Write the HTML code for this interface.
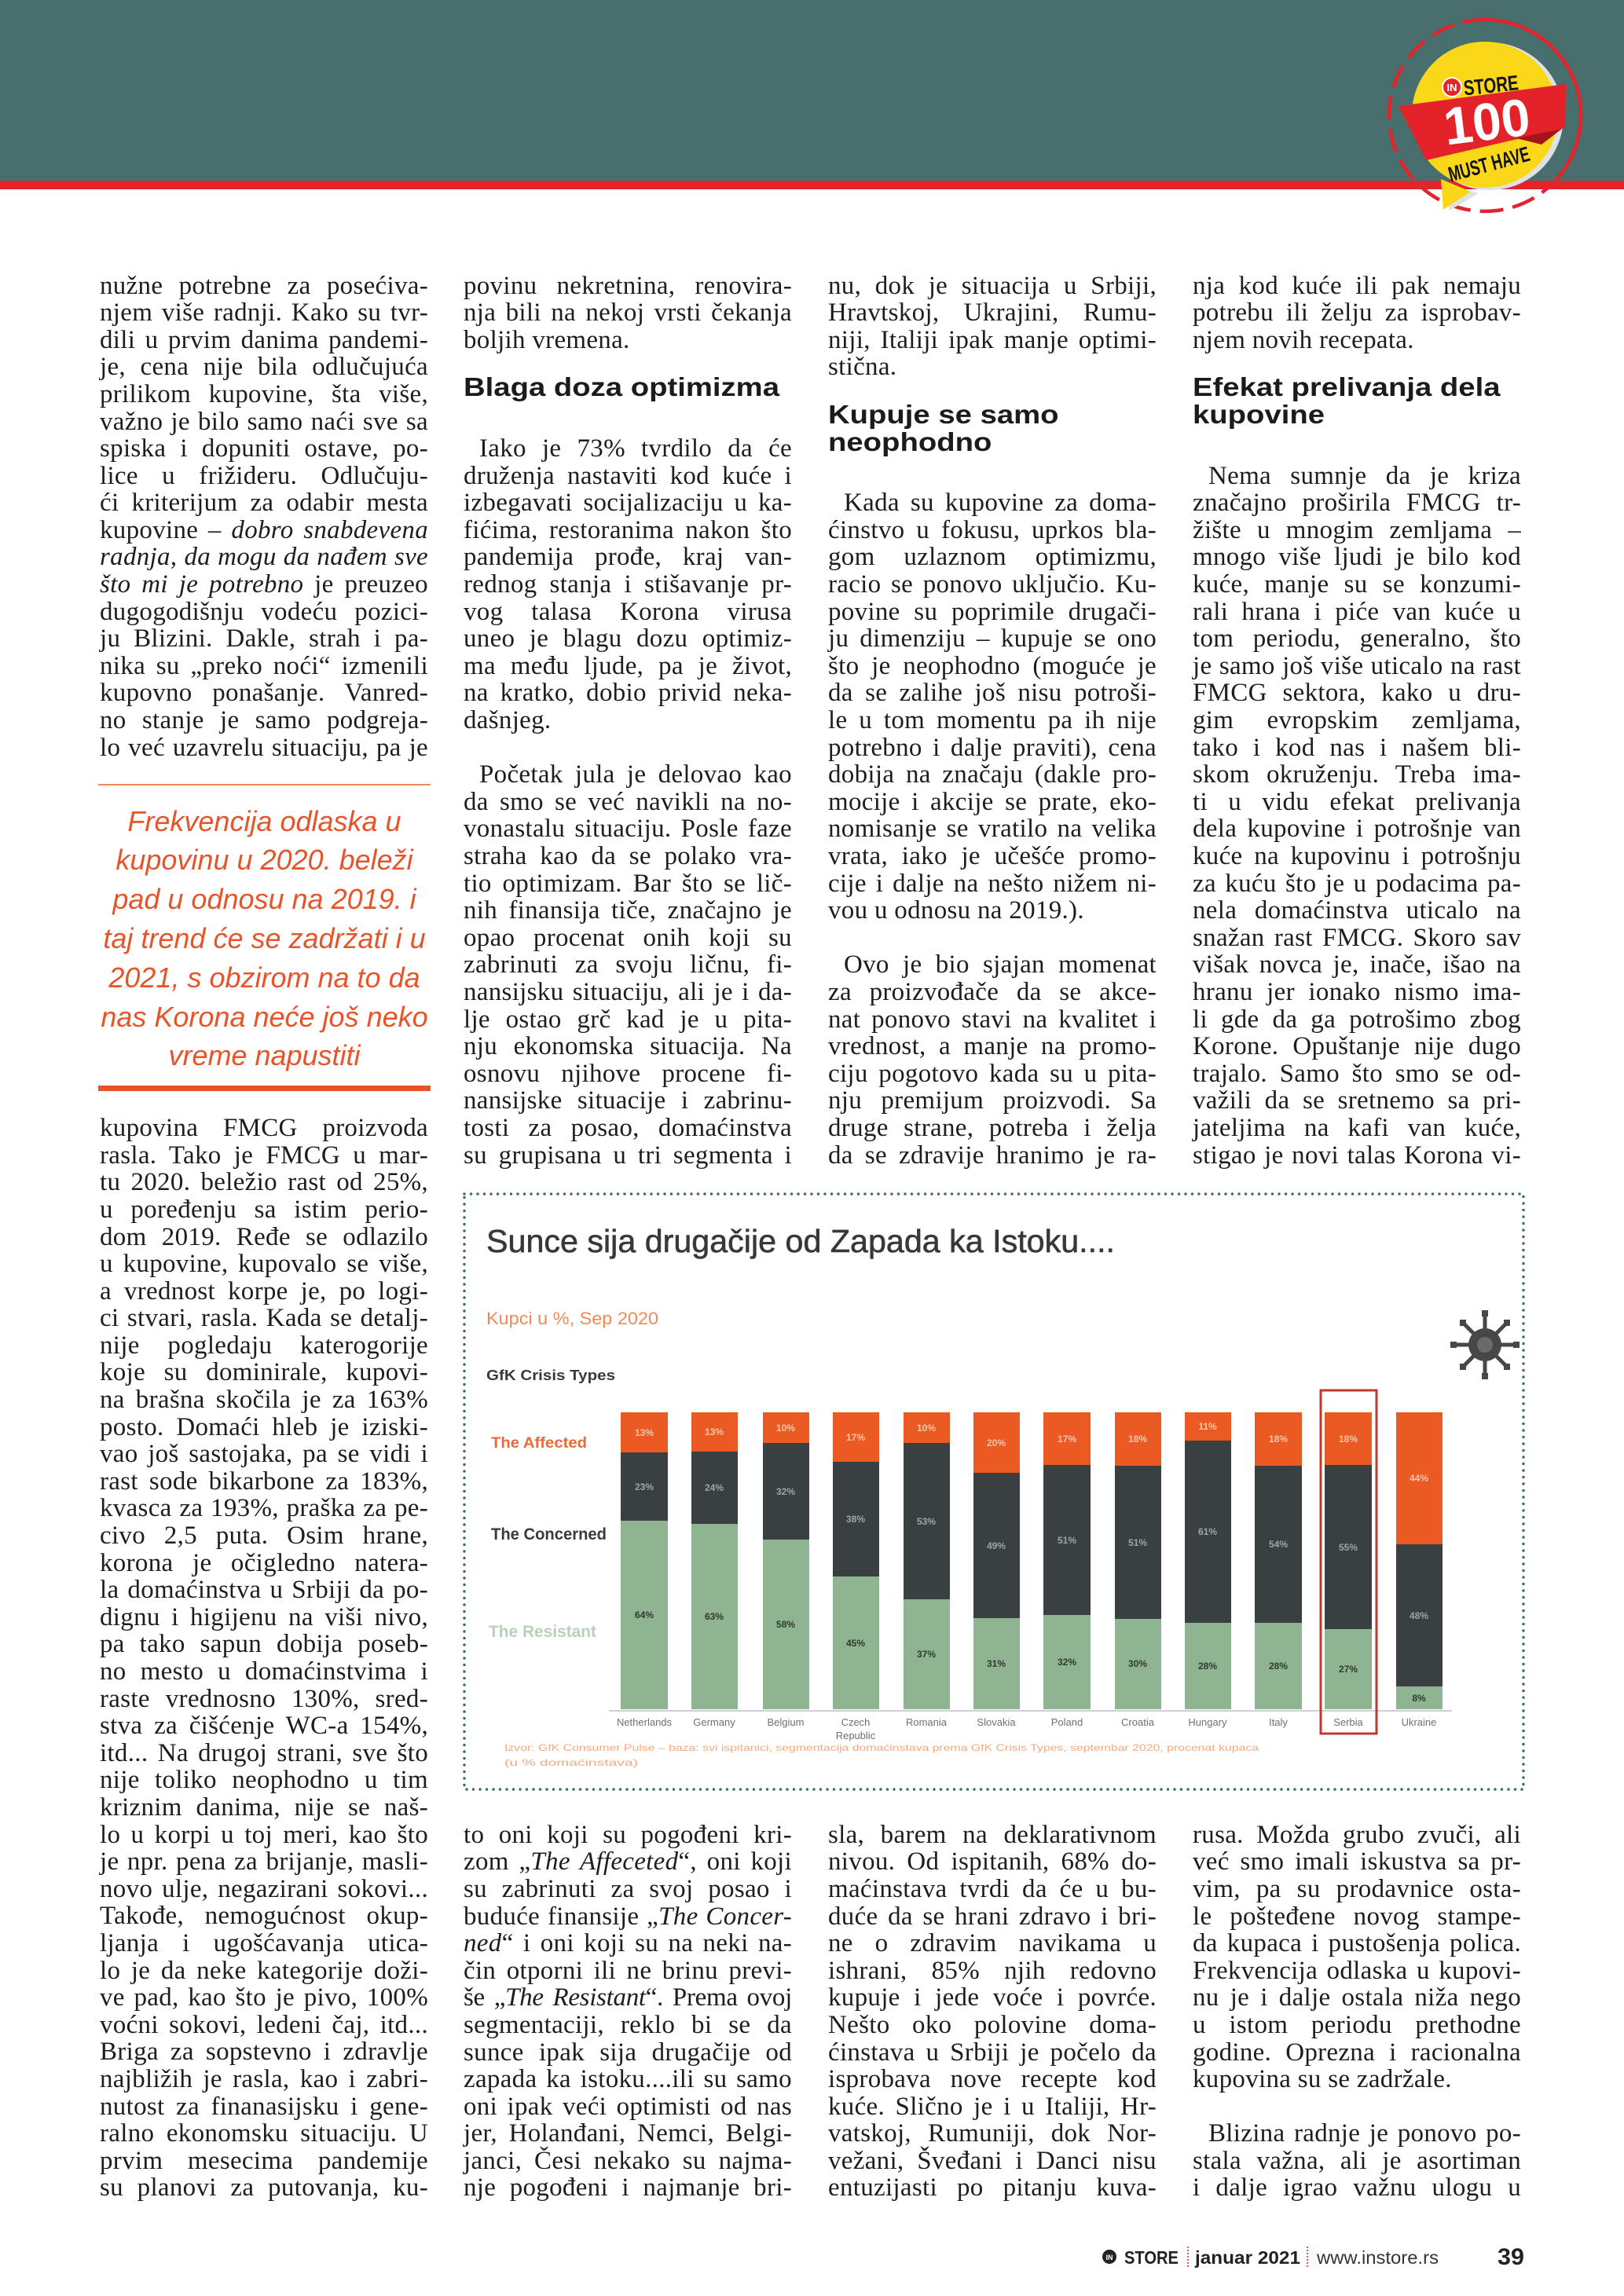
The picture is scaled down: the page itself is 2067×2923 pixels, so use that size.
<!DOCTYPE html>
<html>
<head>
<meta charset="utf-8">
<style>
html,body{margin:0;padding:0;}
body{width:2067px;height:2923px;position:relative;background:#fff;overflow:hidden;}
.col{position:absolute;width:418px;font-family:"Liberation Serif",serif;font-size:33px;letter-spacing:0.3px;color:#1f1c1d;}
.col div{height:34.6px;line-height:34.6px;text-align:justify;text-align-last:justify;white-space:normal;overflow:visible;}
.col div.l{text-align:left;text-align-last:left;}
.col div.i{text-indent:20px;}
.col div.t{letter-spacing:-0.3px;}
.col div.h{font-family:"Liberation Sans",sans-serif;font-weight:bold;font-size:33px;letter-spacing:0;text-align:left;text-align-last:left;position:relative;top:-8.6px;color:#1b1b1b;transform:scaleX(1.16);transform-origin:0 0;}
.quote{position:absolute;left:125px;top:1020.6px;width:423px;text-align:center;font-family:"Liberation Sans",sans-serif;font-style:italic;font-size:36px;line-height:49.8px;color:#e8542a;}
.abs{position:absolute;}
</style>
</head>
<body>

<!-- HEADER -->
<svg class="abs" style="left:0;top:0" width="2067" height="300" viewBox="0 0 2067 300">
  <rect x="0" y="0" width="2067" height="230" fill="#486e6e"/>
  <rect x="0" y="230" width="2067" height="11" fill="#e3242b"/>
  <circle cx="1890" cy="147" r="122" fill="none" stroke="#e3242b" stroke-width="4.5" stroke-dasharray="30 12"/>
  <path d="M1879.4,25.5 A122,122 0 0 1 1983.5,225.4" fill="none" stroke="#e3242b" stroke-width="4.5"/>
  <circle cx="1896" cy="148" r="94" fill="#dde3e5"/>
  <polygon points="1842,236 1845,268 1882,246" fill="#dde3e5"/>
  <circle cx="1890" cy="146" r="93" fill="#fbd719"/>
  <polygon points="1834,228 1837,267 1872,244" fill="#fbd719"/>
  <polygon points="1780,135 1993,107 1992,163 1815,204" fill="#e42229"/>
  <polygon points="1930,176 1988,164 1962,184" fill="#a3151b"/>
  <circle cx="1848" cy="111" r="12" fill="#e3242b" stroke="#fff" stroke-width="2"/>
  <text x="1848" y="116" text-anchor="middle" font-family="Liberation Sans, sans-serif" font-weight="bold" font-size="13" fill="#fff">IN</text>
  <text x="1863" y="118" font-family="Liberation Sans, sans-serif" font-weight="bold" font-size="27" fill="#161616" textLength="70" lengthAdjust="spacingAndGlyphs" transform="rotate(-6 1897 112)">STORE</text>
  <text x="1893" y="178" text-anchor="middle" font-family="Liberation Sans, sans-serif" font-weight="bold" font-size="67" fill="#ffffff" textLength="110" lengthAdjust="spacingAndGlyphs" transform="rotate(-7 1893 160)">100</text>
  <text x="1896" y="218" text-anchor="middle" font-family="Liberation Sans, sans-serif" font-weight="bold" font-size="27" fill="#111" textLength="106" lengthAdjust="spacingAndGlyphs" transform="rotate(-15 1896 212)">MUST HAVE</text>
</svg>

<!-- COLUMN 1 -->
<div class="col" style="left:127px;top:346.55px;">
<div>nužne potrebne za posećiva-</div>
<div>njem više radnji. Kako su tvr-</div>
<div>dili u prvim danima pandemi-</div>
<div>je, cena nije bila odlučujuća</div>
<div>prilikom kupovine, šta više,</div>
<div>važno je bilo samo naći sve sa</div>
<div>spiska i dopuniti ostave, po-</div>
<div>lice u frižideru. Odlučuju-</div>
<div>ći kriterijum za odabir mesta</div>
<div>kupovine – <i>dobro snabdevena</i></div>
<div><i>radnja, da mogu da nađem sve</i></div>
<div><i>što mi je potrebno</i> je preuzeo</div>
<div>dugogodišnju vodeću pozici-</div>
<div>ju Blizini. Dakle, strah i pa-</div>
<div>nika su „preko noći“ izmenili</div>
<div>kupovno ponašanje. Vanred-</div>
<div>no stanje je samo podgreja-</div>
<div>lo već uzavrelu situaciju, pa je</div>
</div>

<div class="abs" style="left:125px;top:998px;width:423px;height:2px;background:#f08a5e;"></div>
<div class="quote">
Frekvencija odlaska u<br>
kupovinu u 2020. beleži<br>
pad u odnosu na 2019. i<br>
taj trend će se zadržati i u<br>
2021, s obzirom na to da<br>
nas Korona neće još neko<br>
vreme napustiti
</div>
<div class="abs" style="left:125px;top:1382px;width:423px;height:7px;background:#e8542a;"></div>

<div class="col" style="left:127px;top:1419.15px;">
<div>kupovina FMCG proizvoda</div>
<div>rasla. Tako je FMCG u mar-</div>
<div>tu 2020. beležio rast od 25%,</div>
<div>u poređenju sa istim perio-</div>
<div>dom 2019. Ređe se odlazilo</div>
<div>u kupovine, kupovalo se više,</div>
<div>a vrednost korpe je, po logi-</div>
<div>ci stvari, rasla. Kada se detalj-</div>
<div>nije pogledaju katerogorije</div>
<div>koje su dominirale, kupovi-</div>
<div>na brašna skočila je za 163%</div>
<div>posto. Domaći hleb je iziski-</div>
<div>vao još sastojaka, pa se vidi i</div>
<div>rast sode bikarbone za 183%,</div>
<div>kvasca za 193%, praška za pe-</div>
<div>civo 2,5 puta. Osim hrane,</div>
<div>korona je očigledno natera-</div>
<div>la domaćinstva u Srbiji da po-</div>
<div>dignu i higijenu na viši nivo,</div>
<div>pa tako sapun dobija poseb-</div>
<div>no mesto u domaćinstvima i</div>
<div>raste vrednosno 130%, sred-</div>
<div>stva za čišćenje WC-a 154%,</div>
<div>itd... Na drugoj strani, sve što</div>
<div>nije toliko neophodno u tim</div>
<div>kriznim danima, nije se naš-</div>
<div>lo u korpi u toj meri, kao što</div>
<div>je npr. pena za brijanje, masli-</div>
<div>novo ulje, negazirani sokovi...</div>
<div>Takođe, nemogućnost okup-</div>
<div>ljanja i ugošćavanja utica-</div>
<div>lo je da neke kategorije doži-</div>
<div>ve pad, kao što je pivo, 100%</div>
<div>voćni sokovi, ledeni čaj, itd...</div>
<div>Briga za sopstevno i zdravlje</div>
<div>najbližih je rasla, kao i zabri-</div>
<div>nutost za finanasijsku i gene-</div>
<div>ralno ekonomsku situaciju. U</div>
<div>prvim mesecima pandemije</div>
<div>su planovi za putovanja, ku-</div>
</div>

<!-- COLUMN 2 -->
<div class="col" style="left:590px;top:346.55px;">
<div>povinu nekretnina, renovira-</div>
<div>nja bili na nekoj vrsti čekanja</div>
<div class="l">boljih vremena.</div>
<div></div>
<div class="h">Blaga doza optimizma</div>
<div></div>
<div class="i">Iako je 73% tvrdilo da će</div>
<div>druženja nastaviti kod kuće i</div>
<div>izbegavati socijalizaciju u ka-</div>
<div>fićima, restoranima nakon što</div>
<div>pandemija prođe, kraj van-</div>
<div>rednog stanja i stišavanje pr-</div>
<div>vog talasa Korona virusa</div>
<div>uneo je blagu dozu optimiz-</div>
<div>ma među ljude, pa je život,</div>
<div>na kratko, dobio privid neka-</div>
<div class="l">dašnjeg.</div>
<div></div>
<div class="i">Početak jula je delovao kao</div>
<div>da smo se već navikli na no-</div>
<div>vonastalu situaciju. Posle faze</div>
<div>straha kao da se polako vra-</div>
<div>tio optimizam. Bar što se lič-</div>
<div>nih finansija tiče, značajno je</div>
<div>opao procenat onih koji su</div>
<div>zabrinuti za svoju ličnu, fi-</div>
<div>nansijsku situaciju, ali je i da-</div>
<div>lje ostao grč kad je u pita-</div>
<div>nju ekonomska situacija. Na</div>
<div>osnovu njihove procene fi-</div>
<div>nansijske situacije i zabrinu-</div>
<div>tosti za posao, domaćinstva</div>
<div>su grupisana u tri segmenta i</div>
</div>

<div class="col" style="left:590px;top:2318.75px;">
<div>to oni koji su pogođeni kri-</div>
<div>zom „<i>The Affeceted</i>“, oni koji</div>
<div>su zabrinuti za svoj posao i</div>
<div>buduće finansije „<i>The Concer-</i></div>
<div><i>ned</i>“ i oni koji su na neki na-</div>
<div>čin otporni ili ne brinu previ-</div>
<div class="t">še „<i>The Resistant</i>“. Prema ovoj</div>
<div>segmentaciji, reklo bi se da</div>
<div>sunce ipak sija drugačije od</div>
<div>zapada ka istoku....ili su samo</div>
<div>oni ipak veći optimisti od nas</div>
<div>jer, Holanđani, Nemci, Belgi-</div>
<div>janci, Česi nekako su najma-</div>
<div>nje pogođeni i najmanje bri-</div>
</div>

<!-- COLUMN 3 -->
<div class="col" style="left:1054px;top:346.55px;">
<div>nu, dok je situacija u Srbiji,</div>
<div>Hravtskoj, Ukrajini, Rumu-</div>
<div>niji, Italiji ipak manje optimi-</div>
<div class="l">stična.</div>
<div></div>
<div class="h">Kupuje se samo</div>
<div class="h">neophodno</div>
<div></div>
<div class="i">Kada su kupovine za doma-</div>
<div>ćinstvo u fokusu, uprkos bla-</div>
<div>gom uzlaznom optimizmu,</div>
<div>racio se ponovo uključio. Ku-</div>
<div>povine su poprimile drugači-</div>
<div>ju dimenziju – kupuje se ono</div>
<div>što je neophodno (moguće je</div>
<div>da se zalihe još nisu potroši-</div>
<div>le u tom momentu pa ih nije</div>
<div>potrebno i dalje praviti), cena</div>
<div>dobija na značaju (dakle pro-</div>
<div>mocije i akcije se prate, eko-</div>
<div>nomisanje se vratilo na velika</div>
<div>vrata, iako je učešće promo-</div>
<div>cije i dalje na nešto nižem ni-</div>
<div class="l">vou u odnosu na 2019.).</div>
<div></div>
<div class="i">Ovo je bio sjajan momenat</div>
<div>za proizvođače da se akce-</div>
<div>nat ponovo stavi na kvalitet i</div>
<div>vrednost, a manje na promo-</div>
<div>ciju pogotovo kada su u pita-</div>
<div>nju premijum proizvodi. Sa</div>
<div>druge strane, potreba i želja</div>
<div>da se zdravije hranimo je ra-</div>
</div>

<div class="col" style="left:1054px;top:2318.75px;">
<div>sla, barem na deklarativnom</div>
<div>nivou. Od ispitanih, 68% do-</div>
<div>maćinstava tvrdi da će u bu-</div>
<div>duće da se hrani zdravo i bri-</div>
<div>ne o zdravim navikama u</div>
<div>ishrani, 85% njih redovno</div>
<div>kupuje i jede voće i povrće.</div>
<div>Nešto oko polovine doma-</div>
<div>ćinstava u Srbiji je počelo da</div>
<div>isprobava nove recepte kod</div>
<div>kuće. Slično je i u Italiji, Hr-</div>
<div>vatskoj, Rumuniji, dok Nor-</div>
<div>vežani, Šveđani i Danci nisu</div>
<div>entuzijasti po pitanju kuva-</div>
</div>

<!-- COLUMN 4 -->
<div class="col" style="left:1518px;top:346.55px;">
<div>nja kod kuće ili pak nemaju</div>
<div>potrebu ili želju za isprobav-</div>
<div class="l">njem novih recepata.</div>
<div></div>
<div class="h">Efekat prelivanja dela</div>
<div class="h">kupovine</div>
<div></div>
<div class="i">Nema sumnje da je kriza</div>
<div>značajno proširila FMCG tr-</div>
<div>žište u mnogim zemljama –</div>
<div>mnogo više ljudi je bilo kod</div>
<div>kuće, manje su se konzumi-</div>
<div>rali hrana i piće van kuće u</div>
<div>tom periodu, generalno, što</div>
<div>je samo još više uticalo na rast</div>
<div>FMCG sektora, kako u dru-</div>
<div>gim evropskim zemljama,</div>
<div>tako i kod nas i našem bli-</div>
<div>skom okruženju. Treba ima-</div>
<div>ti u vidu efekat prelivanja</div>
<div>dela kupovine i potrošnje van</div>
<div>kuće na kupovinu i potrošnju</div>
<div>za kuću što je u podacima pa-</div>
<div>nela domaćinstva uticalo na</div>
<div>snažan rast FMCG. Skoro sav</div>
<div>višak novca je, inače, išao na</div>
<div>hranu jer ionako nismo ima-</div>
<div>li gde da ga potrošimo zbog</div>
<div>Korone. Opuštanje nije dugo</div>
<div>trajalo. Samo što smo se od-</div>
<div>važili da se sretnemo sa pri-</div>
<div>jateljima na kafi van kuće,</div>
<div>stigao je novi talas Korona vi-</div>
</div>

<div class="col" style="left:1518px;top:2318.75px;">
<div>rusa. Možda grubo zvuči, ali</div>
<div>već smo imali iskustva sa pr-</div>
<div>vim, pa su prodavnice osta-</div>
<div>le pošteđene novog stampe-</div>
<div>da kupaca i pustošenja polica.</div>
<div>Frekvencija odlaska u kupovi-</div>
<div>nu je i dalje ostala niža nego</div>
<div>u istom periodu prethodne</div>
<div>godine. Oprezna i racionalna</div>
<div class="l">kupovina su se zadržale.</div>
<div></div>
<div class="i">Blizina radnje je ponovo po-</div>
<div>stala važna, ali je asortiman</div>
<div>i dalje igrao važnu ulogu u</div>
</div>

<!-- CHART -->
<svg class="abs" style="left:0;top:1500px" width="2067" height="800" viewBox="0 1500 2067 800">
  <rect x="591" y="1520" width="1348" height="758" fill="none" stroke="#3f6b69" stroke-width="3.5" stroke-dasharray="0 8.5" stroke-linecap="round"/>
  <text x="619" y="1594" font-family="Liberation Sans, sans-serif" font-size="41" fill="#383838" stroke="#383838" stroke-width="0.6" textLength="800" lengthAdjust="spacingAndGlyphs">Sunce sija drugačije od Zapada ka Istoku....</text>
  <text x="619" y="1686" font-family="Liberation Sans, sans-serif" font-size="22" fill="#ef8a56" textLength="219" lengthAdjust="spacingAndGlyphs">Kupci u %, Sep 2020</text>
  <text x="619" y="1757" font-family="Liberation Sans, sans-serif" font-weight="bold" font-size="18" fill="#3a3a3a" textLength="164" lengthAdjust="spacingAndGlyphs">GfK Crisis Types</text>
  <text x="625" y="1843" font-family="Liberation Sans, sans-serif" font-weight="bold" font-size="19" fill="#ec6a35" textLength="122" lengthAdjust="spacingAndGlyphs">The Affected</text>
  <text x="625" y="1960" font-family="Liberation Sans, sans-serif" font-weight="bold" font-size="21" fill="#3a3a3a" textLength="147" lengthAdjust="spacingAndGlyphs">The Concerned</text>
  <text x="622" y="2084" font-family="Liberation Sans, sans-serif" font-weight="bold" font-size="21" fill="#b9cfb9" textLength="137" lengthAdjust="spacingAndGlyphs">The Resistant</text>

  <!-- virus icon -->
  <g stroke="#474747" stroke-width="5" fill="#474747">
    <line x1="1890" y1="1712" x2="1890" y2="1672"/>
    <line x1="1890" y1="1712" x2="1890" y2="1752"/>
    <line x1="1890" y1="1712" x2="1850" y2="1712"/>
    <line x1="1890" y1="1712" x2="1930" y2="1712"/>
    <line x1="1890" y1="1712" x2="1862" y2="1684"/>
    <line x1="1890" y1="1712" x2="1918" y2="1684"/>
    <line x1="1890" y1="1712" x2="1862" y2="1740"/>
    <line x1="1890" y1="1712" x2="1918" y2="1740"/>
    <circle cx="1890" cy="1712" r="21" stroke="none"/>
    <rect x="1886" y="1668" width="8" height="8" stroke="none"/>
    <rect x="1886" y="1748" width="8" height="8" stroke="none"/>
    <rect x="1846" y="1708" width="8" height="8" stroke="none"/>
    <rect x="1926" y="1708" width="8" height="8" stroke="none"/>
    <rect x="1858" y="1680" width="8" height="8" stroke="none"/>
    <rect x="1914" y="1680" width="8" height="8" stroke="none"/>
    <rect x="1858" y="1736" width="8" height="8" stroke="none"/>
    <rect x="1914" y="1736" width="8" height="8" stroke="none"/>
  </g>
  <circle cx="1890" cy="1712" r="10" fill="#6a6a6a"/>

  <!-- axis -->
  <line x1="775" y1="2178" x2="1848" y2="2178" stroke="#cfd0dc" stroke-width="2"/>

  <g font-family="Liberation Sans, sans-serif" font-weight="bold" font-size="12" text-anchor="middle">
    <rect x="790" y="1798" width="60" height="51" fill="#eb5a23"/>
    <rect x="790" y="1849" width="60" height="87" fill="#3a3f41"/>
    <rect x="790" y="1936" width="60" height="240" fill="#8eb491"/>
    <text x="820" y="1828" fill="#f7c7aa">13%</text><text x="820" y="1897" fill="#9fa5a8">23%</text><text x="820" y="2060" fill="#2f3a2f">64%</text>
    <rect x="880" y="1798" width="59" height="50" fill="#eb5a23"/>
    <rect x="880" y="1848" width="59" height="92" fill="#3a3f41"/>
    <rect x="880" y="1940" width="59" height="236" fill="#8eb491"/>
    <text x="909" y="1827" fill="#f7c7aa">13%</text><text x="909" y="1898" fill="#9fa5a8">24%</text><text x="909" y="2062" fill="#2f3a2f">63%</text>
    <rect x="971" y="1798" width="59" height="39" fill="#eb5a23"/>
    <rect x="971" y="1837" width="59" height="123" fill="#3a3f41"/>
    <rect x="971" y="1960" width="59" height="216" fill="#8eb491"/>
    <text x="1000" y="1822" fill="#f7c7aa">10%</text><text x="1000" y="1903" fill="#9fa5a8">32%</text><text x="1000" y="2072" fill="#2f3a2f">58%</text>
    <rect x="1060" y="1798" width="59" height="63" fill="#eb5a23"/>
    <rect x="1060" y="1861" width="59" height="146" fill="#3a3f41"/>
    <rect x="1060" y="2007" width="59" height="169" fill="#8eb491"/>
    <text x="1089" y="1834" fill="#f7c7aa">17%</text><text x="1089" y="1938" fill="#9fa5a8">38%</text><text x="1089" y="2096" fill="#2f3a2f">45%</text>
    <rect x="1150" y="1798" width="59" height="39" fill="#eb5a23"/>
    <rect x="1150" y="1837" width="59" height="199" fill="#3a3f41"/>
    <rect x="1150" y="2036" width="59" height="140" fill="#8eb491"/>
    <text x="1179" y="1822" fill="#f7c7aa">10%</text><text x="1179" y="1941" fill="#9fa5a8">53%</text><text x="1179" y="2110" fill="#2f3a2f">37%</text>
    <rect x="1239" y="1798" width="59" height="77" fill="#eb5a23"/>
    <rect x="1239" y="1875" width="59" height="185" fill="#3a3f41"/>
    <rect x="1239" y="2060" width="59" height="116" fill="#8eb491"/>
    <text x="1268" y="1841" fill="#f7c7aa">20%</text><text x="1268" y="1972" fill="#9fa5a8">49%</text><text x="1268" y="2122" fill="#2f3a2f">31%</text>
    <rect x="1328" y="1798" width="60" height="67" fill="#eb5a23"/>
    <rect x="1328" y="1865" width="60" height="191" fill="#3a3f41"/>
    <rect x="1328" y="2056" width="60" height="120" fill="#8eb491"/>
    <text x="1358" y="1836" fill="#f7c7aa">17%</text><text x="1358" y="1965" fill="#9fa5a8">51%</text><text x="1358" y="2120" fill="#2f3a2f">32%</text>
    <rect x="1419" y="1798" width="59" height="68" fill="#eb5a23"/>
    <rect x="1419" y="1866" width="59" height="195" fill="#3a3f41"/>
    <rect x="1419" y="2061" width="59" height="115" fill="#8eb491"/>
    <text x="1448" y="1836" fill="#f7c7aa">18%</text><text x="1448" y="1968" fill="#9fa5a8">51%</text><text x="1448" y="2122" fill="#2f3a2f">30%</text>
    <rect x="1508" y="1798" width="59" height="36" fill="#eb5a23"/>
    <rect x="1508" y="1834" width="59" height="232" fill="#3a3f41"/>
    <rect x="1508" y="2066" width="59" height="110" fill="#8eb491"/>
    <text x="1537" y="1820" fill="#f7c7aa">11%</text><text x="1537" y="1954" fill="#9fa5a8">61%</text><text x="1537" y="2125" fill="#2f3a2f">28%</text>
    <rect x="1597" y="1798" width="60" height="68" fill="#eb5a23"/>
    <rect x="1597" y="1866" width="60" height="200" fill="#3a3f41"/>
    <rect x="1597" y="2066" width="60" height="110" fill="#8eb491"/>
    <text x="1627" y="1836" fill="#f7c7aa">18%</text><text x="1627" y="1970" fill="#9fa5a8">54%</text><text x="1627" y="2125" fill="#2f3a2f">28%</text>
    <rect x="1686" y="1798" width="60" height="67" fill="#eb5a23"/>
    <rect x="1686" y="1865" width="60" height="209" fill="#3a3f41"/>
    <rect x="1686" y="2074" width="60" height="102" fill="#8eb491"/>
    <text x="1716" y="1836" fill="#f7c7aa">18%</text><text x="1716" y="1974" fill="#9fa5a8">55%</text><text x="1716" y="2129" fill="#2f3a2f">27%</text>
    <rect x="1777" y="1798" width="59" height="168" fill="#eb5a23"/>
    <rect x="1777" y="1966" width="59" height="181" fill="#3a3f41"/>
    <rect x="1777" y="2147" width="59" height="29" fill="#8eb491"/>
    <text x="1806" y="1886" fill="#f7c7aa">44%</text><text x="1806" y="2061" fill="#9fa5a8">48%</text><text x="1806" y="2166" fill="#2f3a2f">8%</text>
  </g>

  <rect x="1681" y="1770" width="71" height="437" fill="none" stroke="#c0392b" stroke-width="3"/>

  <g font-family="Liberation Sans, sans-serif" font-size="13" fill="#707070" text-anchor="middle">
    <text x="820" y="2197">Netherlands</text>
    <text x="909" y="2197">Germany</text>
    <text x="1000" y="2197">Belgium</text>
    <text x="1089" y="2197">Czech</text>
    <text x="1089" y="2214">Republic</text>
    <text x="1179" y="2197">Romania</text>
    <text x="1268" y="2197">Slovakia</text>
    <text x="1358" y="2197">Poland</text>
    <text x="1448" y="2197">Croatia</text>
    <text x="1537" y="2197">Hungary</text>
    <text x="1627" y="2197">Italy</text>
    <text x="1716" y="2197">Serbia</text>
    <text x="1806" y="2197">Ukraine</text>
  </g>
  <text x="642" y="2229" font-family="Liberation Sans, sans-serif" font-size="12" fill="#f2a97e" textLength="960" lengthAdjust="spacingAndGlyphs">Izvor: GfK Consumer Pulse – baza: svi ispitanici, segmentacija domaćinstava prema GfK Crisis Types, septembar 2020, procenat kupaca</text>
  <text x="642" y="2248" font-family="Liberation Sans, sans-serif" font-size="12" fill="#f2a97e" textLength="170" lengthAdjust="spacingAndGlyphs">(u % domaćinstava)</text>
</svg>

<!-- FOOTER -->
<svg class="abs" style="left:0;top:2840px" width="2067" height="83" viewBox="0 2840 2067 83">
  <circle cx="1412" cy="2873" r="9" fill="#222"/>
  <text x="1412" y="2877" text-anchor="middle" font-family="Liberation Sans, sans-serif" font-weight="bold" font-size="9" fill="#fff">IN</text>
  <text x="1431" y="2882" font-family="Liberation Sans, sans-serif" font-weight="bold" font-size="23" fill="#222" textLength="69" lengthAdjust="spacingAndGlyphs">STORE</text>
  <line x1="1512" y1="2860" x2="1512" y2="2886" stroke="#e3242b" stroke-width="1.5" stroke-dasharray="2 2"/>
  <text x="1521" y="2882" font-family="Liberation Sans, sans-serif" font-weight="bold" font-size="23" fill="#222" textLength="134" lengthAdjust="spacingAndGlyphs">januar 2021</text>
  <line x1="1664" y1="2860" x2="1664" y2="2886" stroke="#e3242b" stroke-width="1.5" stroke-dasharray="2 2"/>
  <text x="1676" y="2882" font-family="Liberation Sans, sans-serif" font-size="23" fill="#333" textLength="155" lengthAdjust="spacingAndGlyphs">www.instore.rs</text>
  <text x="1906" y="2883" font-family="Liberation Sans, sans-serif" font-weight="bold" font-size="30" fill="#222" textLength="34" lengthAdjust="spacingAndGlyphs">39</text>
</svg>

</body>
</html>
